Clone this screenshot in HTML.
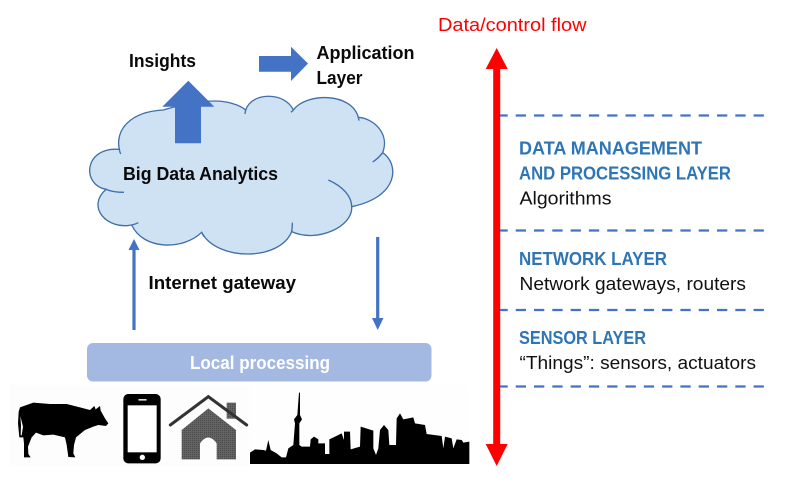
<!DOCTYPE html>
<html><head><meta charset="utf-8"><style>
html,body{margin:0;padding:0;background:#fff}
svg{display:block}
text{font-family:"Liberation Sans",sans-serif;}
.b{font-weight:bold;font-size:18.5px;fill:#0a0a0a}
.h{font-weight:bold;font-size:18.5px;fill:#2e75b6}
.r{font-size:18.5px;fill:#111}
</style></head><body>
<svg width="786" height="482" viewBox="0 0 786 482" xmlns="http://www.w3.org/2000/svg">
<defs>
<pattern id="dots" width="2" height="2" patternUnits="userSpaceOnUse"><rect width="2" height="2" fill="#6a6a6a"/><rect width="1" height="1" fill="#333"/></pattern>
</defs>
<rect width="786" height="482" fill="#fff"/>
<rect x="9" y="385" width="241" height="82" fill="#fdfdfd"/>
<rect x="250" y="385" width="220" height="81" fill="#fefefe"/>

<!-- cloud -->
<g transform="translate(80,30) scale(0.33333)">
<path d="M118,358 C105,300 150,245 250,240 C300,225 350,213 400,213 C440,212 480,225 497,240 C515,185 615,185 640,240 C680,187 815,187 835,262 C880,265 930,310 908,368 C957,400 960,500 815,530 C820,590 710,640 635,605 C600,694 410,694 365,607 C310,661 190,661 155,585 C80,600 18,530 78,478 C5,465 10,350 118,358 Z" fill="#cfe2f3" stroke="#3f6fa8" stroke-width="4"/>
<path d="M118,358 Q119,365 122,372 M78,478 Q100,487 132,487 M155,585 Q165,583 175,578 M365,607 Q368,614 372,620 M635,605 Q637,592 637,578 M815,530 C815,500 790,470 745,450 M908,368 Q895,385 878,396 M835,262 L837,272 M497,240 L495,252 M640,240 L633,247" fill="none" stroke="#3f6fa8" stroke-width="4"/>
</g>

<!-- blue block arrows -->
<polygon points="188.3,80.7 214.3,106.7 201,106.7 201,143.3 175,143.3 175,106.7 162.3,106.7" fill="#4472c4"/>
<polygon points="259,56 291,56 291,46.7 308,63.5 291,81 291,71.7 259,71.7" fill="#4472c4"/>

<!-- thin arrows -->
<line x1="134" y1="330" x2="134" y2="246" stroke="#4472c4" stroke-width="3.2"/>
<polygon points="134,239 139.5,250 128.5,250" fill="#4472c4"/>
<line x1="377.7" y1="237" x2="377.7" y2="322" stroke="#4472c4" stroke-width="3.2"/>
<polygon points="377.7,330 372,318 383.5,318" fill="#4472c4"/>

<!-- local processing -->
<rect x="87" y="343" width="344.5" height="38.5" rx="6" fill="#a3b9e1"/>

<!-- cow -->
<g transform="translate(0,330) scale(0.33333)">
<path d="M60,232 L100,218 L150,222 L200,222 L240,232 L270,240 L283,228 L287,238 L300,228 L302,242 L315,265 L325,280 L318,288 L295,285 L280,290 L255,300 L228,322 L222,345 L220,370 L226,382 L205,381 L200,345 L195,322 L160,314 L130,316 L108,308 L95,322 L84,350 L85,372 L92,382 L72,382 L72,340 L70,322 L58,322 L54,280 L56,245 Z" fill="#000"/>
<path d="M61,258 L69,290 L65,316 L62,316 L63,285 Z" fill="#fff"/>
<!-- phone -->
<rect x="370" y="192" width="112" height="208" rx="15" fill="#000"/>
<rect x="383" y="226" width="87" height="141" fill="#fff"/>
<rect x="415" y="207" width="25" height="5" rx="2" fill="#ddd"/>
<circle cx="427" cy="382" r="8" fill="#fff"/>
<!-- house -->
<rect x="680" y="218" width="28" height="48" fill="url(#dots)"/>
<path d="M545,300 L625,235 L708,300 L708,388 L650,388 L650,340 Q625,305 600,340 L600,388 L545,388 Z" fill="url(#dots)"/>
<polyline points="511,285 625,200 740,285" fill="none" stroke="#333" stroke-width="9" stroke-linecap="round"/>
</g>

<!-- city -->
<g transform="translate(240,380) scale(0.33333)">
<polygon points="30,252 30,218 45,208 70,210 78,212 85,180 92,210 110,220 125,232 138,232 145,205 160,195 165,130 162,118 172,105 177,38 180,38 180,105 186,118 178,130 178,195 185,200 210,200 212,178 222,170 235,178 235,190 255,190 255,222 268,222 268,178 285,170 305,160 312,180 312,155 330,155 332,208 360,200 362,140 400,152 400,205 408,225 415,205 420,150 432,135 445,150 448,195 468,195 470,115 480,100 490,118 520,112 525,130 555,135 560,162 605,168 610,205 615,170 635,175 640,205 650,178 665,180 670,188 688,185 688,252" fill="#000"/>
</g>

<!-- red arrow -->
<rect x="493.2" y="68" width="7" height="377" fill="#f00"/>
<polygon points="496.7,48 507.7,69 485.7,69" fill="#f00"/>
<polygon points="496.7,466 485.7,444 507.7,444" fill="#f00"/>

<!-- dashed lines -->
<g stroke="#4472c4" stroke-width="2.2" stroke-dasharray="10.3 8" fill="none">
<line x1="500" y1="115.5" x2="764" y2="115.5" stroke-dashoffset="2.6"/>
<line x1="500" y1="230.5" x2="764" y2="230.5" stroke-dashoffset="2.6"/>
<line x1="500" y1="310" x2="764" y2="310" stroke-dashoffset="2.6"/>
<line x1="500" y1="386.5" x2="764" y2="386.5" stroke-dashoffset="2.6"/>
</g>

<!-- labels -->
<text class="b" x="129" y="67" textLength="67" lengthAdjust="spacingAndGlyphs">Insights</text>
<text class="b" x="316.5" y="59" textLength="98" lengthAdjust="spacingAndGlyphs">Application</text>
<text class="b" x="316.5" y="84" textLength="46" lengthAdjust="spacingAndGlyphs">Layer</text>
<text class="b" x="123" y="180" textLength="155" lengthAdjust="spacingAndGlyphs">Big Data Analytics</text>
<text class="b" x="148.5" y="289" textLength="147.5" lengthAdjust="spacingAndGlyphs">Internet gateway</text>
<text x="190" y="369" font-size="18.5" font-weight="bold" fill="#fff" textLength="140" lengthAdjust="spacingAndGlyphs">Local processing</text>
<text x="438" y="31" font-size="18.5" fill="#f00" textLength="148.5" lengthAdjust="spacingAndGlyphs">Data/control flow</text>
<text class="h" x="519" y="154.5" textLength="183" lengthAdjust="spacingAndGlyphs">DATA MANAGEMENT</text>
<text class="h" x="519" y="179.5" textLength="212" lengthAdjust="spacingAndGlyphs">AND PROCESSING LAYER</text>
<text class="r" x="519.5" y="204.5" textLength="92" lengthAdjust="spacingAndGlyphs">Algorithms</text>
<text class="h" x="519" y="265" textLength="148" lengthAdjust="spacingAndGlyphs">NETWORK LAYER</text>
<text class="r" x="519.5" y="290" textLength="226.5" lengthAdjust="spacingAndGlyphs">Network gateways, routers</text>
<text class="h" x="519" y="344" textLength="127" lengthAdjust="spacingAndGlyphs">SENSOR LAYER</text>
<text class="r" x="519.5" y="369" textLength="236.5" lengthAdjust="spacingAndGlyphs">“Things”: sensors, actuators</text>
</svg>
</body></html>
